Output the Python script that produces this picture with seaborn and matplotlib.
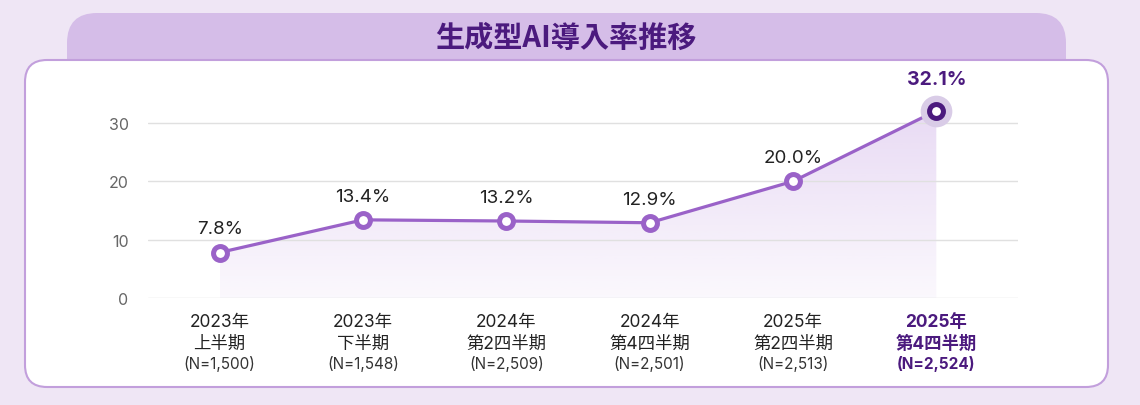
import numpy as np
import matplotlib
matplotlib.use("Agg")
import matplotlib.pyplot as plt
import seaborn as sns
import pandas as pd
from matplotlib.patches import FancyBboxPatch

# データ
years = ["2023年", "2023年", "2024年", "2024年", "2025年", "2025年"]
halves = ["上半期", "下半期", "第2四半期", "第4四半期", "第2四半期", "第4四半期"]
sample_sizes = ["(N=1,500)", "(N=1,548)", "(N=2,509)",
                "(N=2,501)", "(N=2,513)", "(N=2,524)"]
adoption_rate = [7.8, 13.4, 13.2, 12.9, 20.0, 32.1]
y_ticks = [0, 10, 20, 30]

sns.set_theme(style="white")
plt.rcParams['font.family'] = ['Inter', 'Noto Sans CJK JP', 'DejaVu Sans']

BG = '#efe6f5'
LINE = '#9a62c8'
DARK = '#4b1a7e'
TEXT = '#222222'

fig = plt.figure(figsize=(11.4, 4.06), dpi=100, facecolor=BG)

# 背景パネル (ピクセル座標)
bg = fig.add_axes([0, 0, 1, 1], zorder=0)
bg.set_xlim(0, 1140)
bg.set_ylim(406, 0)
bg.axis('off')
bg.add_patch(FancyBboxPatch((67, 14), 999, 80, boxstyle="round,pad=0,rounding_size=30",
                            facecolor='#d5bde8', edgecolor='none'))
bg.add_patch(FancyBboxPatch((25, 61), 1083, 327, boxstyle="round,pad=0,rounding_size=22",
                            facecolor='white', edgecolor='#c29fdc', linewidth=1.5))
bg.text(566, 38, "生成型AI導入率推移", ha='center', va='center', fontsize=21,
        fontweight='bold', color=DARK, family=['Noto Sans CJK JP', 'DejaVu Sans'])

# メインチャート
ax = fig.add_axes([148 / 1140, (406 - 299) / 406, 870 / 1140, 34 * 5.833 / 406], zorder=1)
ax.patch.set_alpha(0)

df = pd.DataFrame({'x': range(len(adoption_rate)), 'rate': adoption_rate})

# グラデーション塗り
poly = ax.fill_between(df['x'], df['rate'], 0, color='none')
grad = np.zeros((200, 1, 4))
c = matplotlib.colors.to_rgb('#b98ddd')
grad[:, 0, 0], grad[:, 0, 1], grad[:, 0, 2] = c
grad[:, 0, 3] = np.linspace(0.32, 0.06, 200)
img = ax.imshow(grad, aspect='auto', extent=(0, len(adoption_rate) - 1, 0, max(adoption_rate)),
                origin='upper', zorder=1)
img.set_clip_path(poly.get_paths()[0], transform=ax.transData)

sns.lineplot(data=df, x='x', y='rate', ax=ax, color=LINE, linewidth=2.3, zorder=3)
ax.plot(df['x'][:-1], df['rate'][:-1], 'o', ms=10, mfc='white', mec=LINE, mew=3.6,
        zorder=4, clip_on=False)
# 最新値のハイライト
ax.scatter(df['x'].iloc[-1], df['rate'].iloc[-1], s=520, color='#d9cce7', zorder=3.5,
           clip_on=False, linewidths=0)
ax.plot(df['x'].iloc[-1:], df['rate'].iloc[-1:], 'o', ms=10, mfc='white', mec=DARK, mew=3.6,
        zorder=4, clip_on=False)

for i, v in enumerate(adoption_rate):
    last = i == len(adoption_rate) - 1
    ax.annotate(f"{v:.1f}%", (i, v), xytext=(0, 23 if last else 17), textcoords='offset points',
                ha='center', va='center', fontsize=14 if last else 13.5,
                fontweight='bold' if last else 'normal', color=DARK if last else TEXT)

ax.set_xlim(-0.5, 5.57)
ax.set_ylim(0, 34)
ax.set_yticks(y_ticks)
ax.set_yticklabels([str(t) for t in y_ticks], fontsize=11.5, color='#666666')
ax.grid(axis='y', color='#e0e0e0', linewidth=1, zorder=2)
ax.set_axisbelow(False)
for s in ax.spines.values():
    s.set_visible(False)
ax.tick_params(axis='y', length=0, pad=14)
ax.set_xticks(range(len(adoption_rate)))
ax.set_xticklabels([])
ax.tick_params(axis='x', length=0)
ax.set_xlabel('')
ax.set_ylabel('')

# 横軸ラベル (3段)
for i in range(len(adoption_rate)):
    last = i == len(adoption_rate) - 1
    fw = 'bold' if last else 'normal'
    for txt, off, fs, col in [(years[i], -17.2, 12.5, TEXT), (halves[i], -32.4, 12.5, TEXT),
                              (sample_sizes[i], -47, 11, '#333333')]:
        ax.annotate(txt, (i, 0), xycoords=('data', 'axes fraction'), xytext=(0, off),
                    textcoords='offset points', ha='center', va='center', fontsize=fs,
                    fontweight=fw, color=DARK if last else col)

fig.savefig('out.png', dpi=100, facecolor=BG)
